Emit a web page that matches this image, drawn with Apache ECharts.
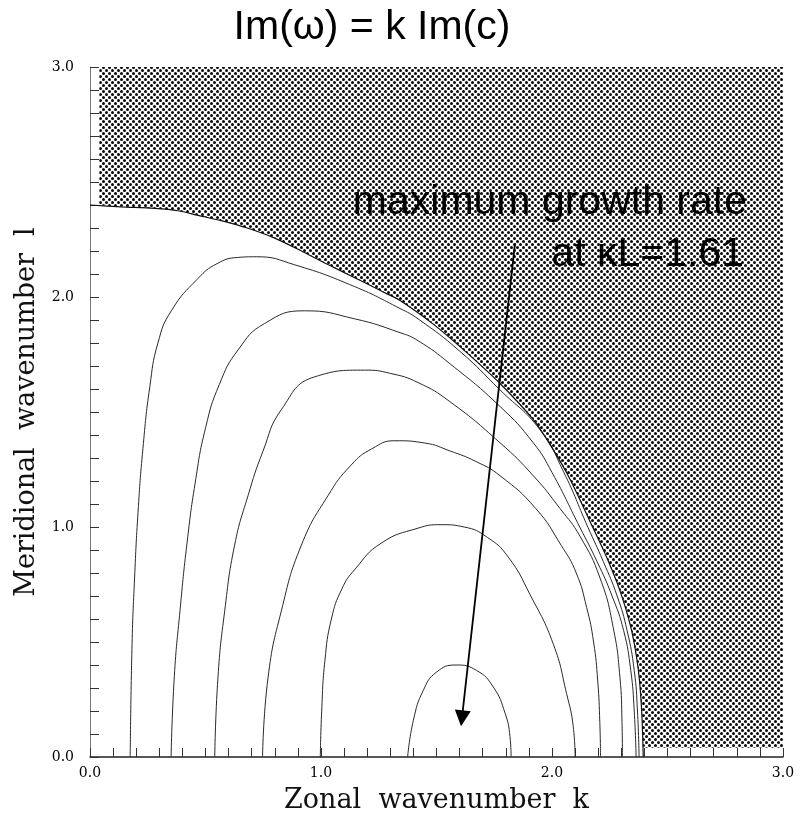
<!DOCTYPE html>
<html>
<head>
<meta charset="utf-8">
<script src="https://cdn.jsdelivr.net/npm/echarts@6/dist/echarts.min.js"></script>
<style>
  html, body { margin: 0; padding: 0; background: #fff; }
  #chart { width: 804px; height: 819px; }
</style>
</head>
<body>
<div id="chart"></div>
<script>
// Neutral curve Im(c) = 0, as [k, l] from the l-axis down to the k-axis
const neutralCurve = [
  [0.000, 2.400], [0.135, 2.392], [0.280, 2.385], [0.381, 2.375], [0.468, 2.355],
  [0.568, 2.332], [0.684, 2.299], [0.800, 2.256], [0.915, 2.200], [1.030, 2.141],
  [1.146, 2.084], [1.261, 2.026], [1.342, 1.985], [1.486, 1.882], [1.631, 1.758],
  [1.775, 1.624], [1.919, 1.467], [2.000, 1.345], [2.078, 1.208], [2.179, 0.993],
  [2.245, 0.849], [2.300, 0.706], [2.345, 0.548], [2.374, 0.376], [2.388, 0.204],
  [2.395, 0.000]
];

// Stable (shaded) region: outer corners, then the neutral curve closes it
const stableCorners = [[0.04, 3.0], [3.0, 3.0], [3.0, 0.04], [2.395, 0.04]];
const stableClose = [0.04, 2.399];

// Growth-rate contours, each from its left k-axis crossing, over the top, to its right crossing
const contour1 = [
  [0.174, 0.000], [0.182, 0.490], [0.193, 0.778], [0.208, 1.065], [0.229, 1.340],
  [0.259, 1.610], [0.294, 1.800], [0.352, 1.940], [0.467, 2.080], [0.550, 2.145],
  [0.640, 2.172], [0.720, 2.175], [0.886, 2.140], [1.146, 2.045], [1.342, 1.950],
  [1.420, 1.905], [1.600, 1.765], [1.775, 1.596], [1.948, 1.423], [2.050, 1.240],
  [2.155, 1.000], [2.222, 0.850], [2.282, 0.700], [2.325, 0.550], [2.356, 0.376],
  [2.370, 0.200], [2.377, 0.000]
];
const contour2 = [
  [0.351, 0.000], [0.365, 0.350], [0.390, 0.640], [0.420, 0.930], [0.455, 1.190],
  [0.500, 1.430], [0.560, 1.620], [0.641, 1.770], [0.756, 1.885], [0.930, 1.940],
  [1.146, 1.905], [1.342, 1.845], [1.420, 1.810], [1.558, 1.710], [1.775, 1.524],
  [1.919, 1.366], [2.000, 1.237], [2.120, 1.000], [2.195, 0.850], [2.260, 0.700],
  [2.310, 0.550], [2.341, 0.376], [2.356, 0.200], [2.364, 0.000]
];
const contour3 = [
  [0.540, 0.000], [0.554, 0.347], [0.583, 0.634], [0.626, 0.921], [0.684, 1.136],
  [0.749, 1.330], [0.828, 1.510], [0.973, 1.653], [1.189, 1.682], [1.300, 1.668],
  [1.420, 1.628], [1.558, 1.545], [1.775, 1.366], [1.919, 1.223], [2.035, 1.080],
  [2.121, 0.960], [2.208, 0.778], [2.265, 0.563], [2.294, 0.347], [2.303, 0.150],
  [2.305, 0.000]
];
const contour4 = [
  [0.747, 0.000], [0.771, 0.347], [0.828, 0.634], [0.915, 0.921], [1.030, 1.136],
  [1.131, 1.270], [1.220, 1.340], [1.320, 1.375], [1.450, 1.365], [1.560, 1.330],
  [1.670, 1.285], [1.775, 1.223], [1.930, 1.080], [2.040, 0.920], [2.105, 0.800],
  [2.150, 0.650], [2.180, 0.500], [2.198, 0.330], [2.207, 0.150], [2.210, 0.000]
];
const contour5 = [
  [0.997, 0.000], [1.003, 0.200], [1.017, 0.420], [1.045, 0.600], [1.090, 0.730],
  [1.146, 0.815], [1.261, 0.930], [1.420, 0.995], [1.520, 1.010], [1.620, 1.000],
  [1.720, 0.955], [1.810, 0.870], [1.905, 0.706], [2.006, 0.490], [2.063, 0.276],
  [2.092, 0.132], [2.100, 0.000]
];
const contour6 = [
  [1.375, 0.000], [1.400, 0.160], [1.443, 0.290], [1.500, 0.369], [1.585, 0.400],
  [1.674, 0.376], [1.746, 0.304], [1.797, 0.190], [1.818, 0.089], [1.823, 0.000]
];

// Arrow from the annotation down to the fastest-growing wave
const maxGrowthK = 1.61;
const arrowTail = [1.84, 2.234];
const arrowHead = [maxGrowthK, 0.168];

// Axis ranges and labelled ticks
const axisMin = 0.0;
const axisMax = 3.0;
const tickStep = 0.1;
const labelledTicks = [0.0, 1.0, 2.0, 3.0];

const titleText = 'Im(\u03c9) = k Im(c)';
const noteLines = ['maximum growth rate', 'at \u03baL=' + maxGrowthK.toFixed(2)];

// Dotted screen used for the stable region
function makeDotPattern() {
  const c = document.createElement('canvas');
  c.width = 6; c.height = 6;
  const g = c.getContext('2d');
  g.fillStyle = '#ffffff';
  g.fillRect(0, 0, 6, 6);
  g.fillStyle = '#0a0a0a';
  [[1.5, 1.5], [4.5, 4.5]].forEach(function (p) {
    g.beginPath();
    g.arc(p[0], p[1], 1.5, 0, Math.PI * 2);
    g.fill();
  });
  return c;
}
const dotPattern = makeDotPattern();

const stablePolygon = stableCorners
  .concat(neutralCurve.slice().reverse().filter(function (p) { return p[0] > 0.04 && p[1] > 0.04; }))
  .concat([stableClose]);

const serifFont = '"DejaVu Serif", "Liberation Serif", serif';
const sansFont = '"Liberation Sans", Arial, Helvetica, sans-serif';

function tickLabel(v) {
  for (let i = 0; i < labelledTicks.length; i++) {
    if (Math.abs(v - labelledTicks[i]) < 1e-6) return labelledTicks[i].toFixed(1);
  }
  return '';
}

function contourSeries(data) {
  return {
    type: 'line',
    data: data,
    smooth: 0.5,
    showSymbol: false,
    symbol: 'none',
    silent: true,
    lineStyle: { color: '#2a2a2a', width: 1 },
    z: 3
  };
}

const chart = echarts.init(document.getElementById('chart'), null, { renderer: 'canvas' });

const axisCommon = {
  type: 'value',
  min: axisMin,
  max: axisMax,
  interval: tickStep,
  splitLine: { show: false },
  axisTick: { show: true, inside: true, length: 9, lineStyle: { color: '#333', width: 1 } },
  nameLocation: 'middle',
  nameTextStyle: { fontFamily: serifFont, fontSize: 27, color: '#111' }
};

chart.setOption({
  animation: false,
  backgroundColor: '#ffffff',
  grid: { left: 90, right: 21, top: 67, bottom: 55 },
  xAxis: Object.assign({}, axisCommon, {
    name: 'Zonal  wavenumber  k',
    nameGap: 30,
    axisLine: { show: true, lineStyle: { color: '#222', width: 1.5 } },
    axisLabel: { formatter: tickLabel, margin: 9, fontFamily: serifFont, fontSize: 14, color: '#000' }
  }),
  yAxis: Object.assign({}, axisCommon, {
    name: 'Meridional  wavenumber  l',
    nameGap: 40,
    axisLine: { show: true, lineStyle: { color: '#777', width: 1 } },
    axisLabel: { formatter: tickLabel, margin: 16, fontFamily: serifFont, fontSize: 14, color: '#000' }
  }),
  series: [
    {
      type: 'custom',
      silent: true,
      z: 1,
      data: [[0, 0]],
      renderItem: function (params, api) {
        const pts = stablePolygon.map(function (p) { return api.coord(p); });
        return {
          type: 'polygon',
          shape: { points: pts },
          style: { fill: { image: dotPattern, repeat: 'repeat' }, stroke: null }
        };
      }
    },
    {
      type: 'line',
      data: neutralCurve,
      smooth: 0.3,
      showSymbol: false,
      symbol: 'none',
      silent: true,
      lineStyle: { color: '#111', width: 1.2 },
      z: 4
    },
    contourSeries(contour1),
    contourSeries(contour2),
    contourSeries(contour3),
    contourSeries(contour4),
    contourSeries(contour5),
    Object.assign(contourSeries(contour6), {
      markLine: {
        silent: true,
        symbol: ['none', 'triangle'],
        symbolSize: 16,
        label: { show: false },
        lineStyle: { color: '#000', width: 1.8, type: 'solid' },
        data: [[{ coord: arrowTail }, { coord: arrowHead }]]
      }
    })
  ],
  graphic: [
    {
      type: 'text', x: 372, y: 28, z: 10,
      style: { text: titleText, font: '41px ' + sansFont, fill: '#000', align: 'center', verticalAlign: 'middle' }
    },
    {
      type: 'text', x: 747, y: 203, z: 10,
      style: { text: noteLines[0], font: '41px ' + sansFont, fill: '#000', align: 'right', verticalAlign: 'middle' }
    },
    {
      type: 'text', x: 744, y: 255, z: 10,
      style: { text: noteLines[1], font: '41px ' + sansFont, fill: '#000', align: 'right', verticalAlign: 'middle' }
    }
  ]
});
</script>
</body>
</html>
